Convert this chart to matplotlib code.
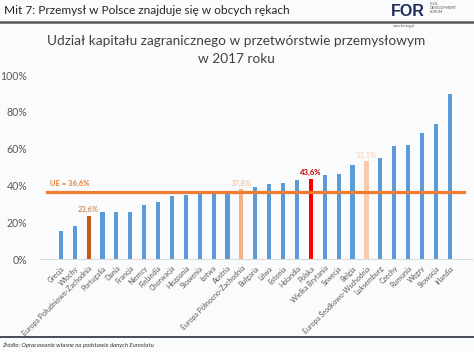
import matplotlib.pyplot as plt
from matplotlib.lines import Line2D

# dane
kraje = ['Grecja', 'Włochy', 'Europa Południowo-Zachodnia', 'Portugalia', 'Dania',
         'Francja', 'Niemcy', 'Finlandia', 'Chorwacja', 'Hiszpania', 'Słowenia',
         'Łotwa', 'Austria', 'Europa Północno-Zachodnia', 'Bułgaria', 'Litwa',
         'Estonia', 'Holandia', 'Polska', 'Wielka Brytania', 'Szwecja', 'Belgia',
         'Europa Środkowo-Wschodnia', 'Luksemburg', 'Czechy', 'Rumunia', 'Węgry',
         'Słowacja', 'Irlandia']
udzial = [15.0, 18.1, 23.6, 25.5, 25.7, 25.7, 29.5, 30.8, 34.2, 35.0, 36.2,
          36.2, 36.2, 37.8, 39.3, 41.0, 41.3, 43.2, 43.6, 45.8, 46.4, 50.9,
          53.1, 54.8, 61.6, 61.8, 68.5, 73.4, 89.5]
ue = 36.6

# wyróżnione słupki
wyroznione = {
    'Europa Południowo-Zachodnia': ('#C55A11', '#C0763E', '23,6%', 'normal'),
    'Europa Północno-Zachodnia': ('#F4B183', '#F2B48A', '37,8%', 'normal'),
    'Polska': ('#FF0000', '#C00000', '43,6%', 'bold'),
    'Europa Środkowo-Wschodnia': ('#F8CBAD', '#F5CDB2', '53,1%', 'normal'),
}

plt.rcParams['font.family'] = ['Lato', 'DejaVu Sans']

fig = plt.figure(figsize=(4.74, 3.52), dpi=100)
fig.patch.set_facecolor('#F9FBFD')

ax = fig.add_axes([40 / 474, 1 - 259 / 352, 432 / 474, 184 / 352])
ax.set_facecolor('none')

x = list(range(len(kraje)))
kolory = [wyroznione[k][0] if k in wyroznione else '#5B9BD5' for k in kraje]
ax.bar(x, udzial, width=0.3, color=kolory, zorder=2)

for i, k in enumerate(kraje):
    if k in wyroznione:
        _, kol_txt, txt, waga = wyroznione[k]
        ax.text(i, udzial[i] + 1.5, txt, ha='center', va='bottom',
                fontsize=5.5, color=kol_txt, fontweight=waga)

ax.plot([-1, 29], [ue, ue], color='#ED7D31', lw=2.3, zorder=3)
ax.text(-0.75, ue + 2.5, 'UE = 36,6%', fontsize=5.5, color='#ED7D31',
        fontweight='bold', ha='left', va='bottom')

ax.set_xlim(-1.5, 29.6)
ax.set_ylim(0, 100)
ax.set_yticks([0, 20, 40, 60, 80, 100])
ax.set_yticklabels(['0%', '20%', '40%', '60%', '80%', '100%'])
ax.tick_params(axis='y', length=0, labelsize=7.6, labelcolor='#595959', pad=9)
ax.set_xticks(x)
ax.set_xticklabels(kraje, rotation=45, ha='right', rotation_mode='anchor',
                   fontsize=5.0, color='#595959')
ax.tick_params(axis='x', length=0, pad=4)
for s in ['top', 'right', 'left']:
    ax.spines[s].set_visible(False)
ax.spines['bottom'].set_color('#D9D9D9')

# nagłówek slajdu
fig.text(4 / 474, 1 - 11 / 352, 'Mit 7: Przemysł w Polsce znajduje się w obcych rękach',
         fontsize=8.6, color='#262626', va='center', ha='left')
fig.add_artist(Line2D([0, 1], [1 - 22 / 352, 1 - 22 / 352], color='#595959',
                      lw=1.8, transform=fig.transFigure))
fig.text(391 / 474, 1 - 16 / 352, 'FOR', fontsize=11.5, fontweight='bold',
         color='#1F2F5C', va='baseline', ha='left', family='Liberation Sans')
fig.text(430 / 474, 1 - 8 / 352, 'CIVIL\nDEVELOPMENT\nFORUM', fontsize=2.6,
         color='#555555', va='center', ha='left', linespacing=1.1)
fig.text(393 / 474, 1 - 25.5 / 352, 'www.for.org.pl', fontsize=2.4,
         color='#555555', va='center', ha='left')

# tytuł wykresu
fig.text(236 / 474, 1 - 50 / 352,
         'Udział kapitału zagranicznego w przetwórstwie przemysłowym\nw 2017 roku',
         fontsize=9.8, color='#404040', ha='center', va='center', linespacing=1.55)

# stopka
fig.add_artist(Line2D([0, 1], [1 - 337 / 352, 1 - 337 / 352], color='#3A3F48',
                      lw=1.3, transform=fig.transFigure))
fig.text(2 / 474, 1 - 345 / 352, 'Źródło: Opracowanie własne na podstawie danych Eurostatu',
         fontsize=4.3, style='italic', color='#333333', va='center', ha='left')

fig.savefig('out.png', dpi=100, facecolor=fig.get_facecolor())
